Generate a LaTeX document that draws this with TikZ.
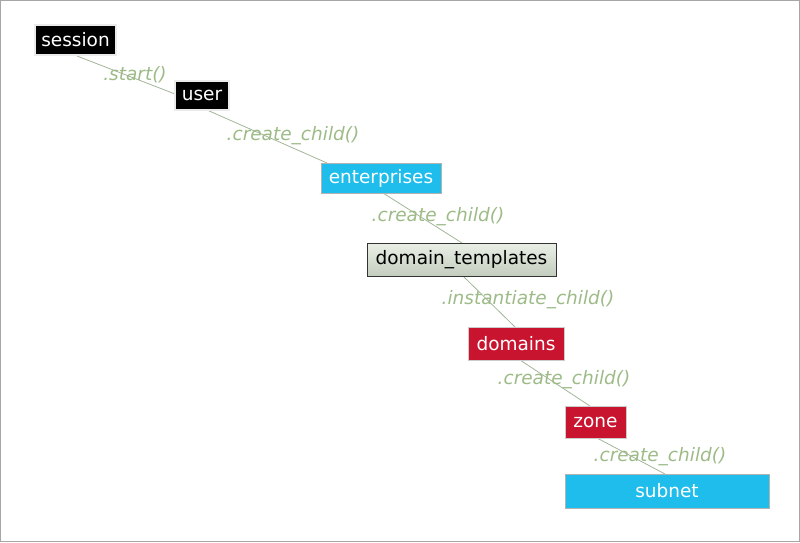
\documentclass[tikz,border=0pt]{standalone}
\usepackage{fontspec}
\setmainfont{DejaVu Sans}
\usetikzlibrary{calc}
\definecolor{cyanbox}{HTML}{1EBDEC}
\definecolor{redbox}{HTML}{C8142F}
\definecolor{lblgreen}{HTML}{9DBB87}
\definecolor{linec}{HTML}{A3B59A}
\definecolor{tmplTop}{HTML}{EAEFE6}
\definecolor{tmplBot}{HTML}{C3CDBE}
\tikzset{
  box/.style={inner sep=0pt, anchor=center, font=\fontsize{18.5}{20}\selectfont, text=white},
  blackbox/.style={box, fill=black, draw=black!8, line width=1.2pt},
  cyanb/.style={box, fill=cyanbox, draw=gray!60, line width=0.6pt},
  redb/.style={box, fill=redbox, draw=gray!40, line width=0.6pt},
  tmplb/.style={box, text=black, top color=tmplTop, bottom color=tmplBot, draw=black!80, line width=0.8pt},
  lbl/.style={font=\fontsize{18.5}{20}\selectfont\itshape, text=lblgreen, inner sep=1pt},
  conn/.style={draw=linec, line width=0.8pt}
}
\begin{document}
\begin{tikzpicture}[x=1pt,y=-1pt]
\useasboundingbox (0,0) rectangle (800,542);
\draw[gray!70, line width=0.8pt] (0.4,0.4) rectangle (799.6,541.6);
% connectors first
\coordinate (c1a) at (77,56);   \coordinate (c1b) at (175,94);
\coordinate (c2a) at (207,110); \coordinate (c2b) at (327,163);
\coordinate (c3a) at (383,193); \coordinate (c3b) at (462,243);
\coordinate (c4a) at (463,276); \coordinate (c4b) at (515,327);
\coordinate (c5a) at (520,360); \coordinate (c5b) at (590,406);
\coordinate (c6a) at (597,438); \coordinate (c6b) at (665,474);
\path[conn] (c1a) -- (c1b);
\path[conn] (c2a) -- (c2b);
\path[conn] (c3a) -- (c3b);
\path[conn] (c4a) -- (c4b);
\path[conn] (c5a) -- (c5b);
\path[conn] (c6a) -- (c6b);
% labels
\node[lbl] (l1) at (135,75) {.start()};
\node[lbl] (l2) at (293,136) {.create\_child()};
\node[lbl] (l3) at (438,217) {.create\_child()};
\node[lbl] (l4) at (528,300) {.instantiate\_child()};
\node[lbl] (l5) at (564,380) {.create\_child()};
\node[lbl] (l6) at (660,457) {.create\_child()};
% boxes
\node[blackbox, minimum width=81, minimum height=30] (session) at (75.5,40) {session};
\node[blackbox, minimum width=54, minimum height=29] (user) at (202,95.5) {user};
\node[cyanb, minimum width=120, minimum height=30] (enterprises) at (381,178) {enterprises};
\node[tmplb, minimum width=189, minimum height=33] (templates) at (461.5,259.5) {domain\_templates};
\node[redb, minimum width=96, minimum height=33] (domains) at (516,343.5) {domains};
\node[redb, minimum width=61, minimum height=32] (zone) at (595.5,422) {zone};
\node[cyanb, minimum width=204, minimum height=34] (subnet) at (667,491) {subnet};
\end{tikzpicture}
\end{document}
